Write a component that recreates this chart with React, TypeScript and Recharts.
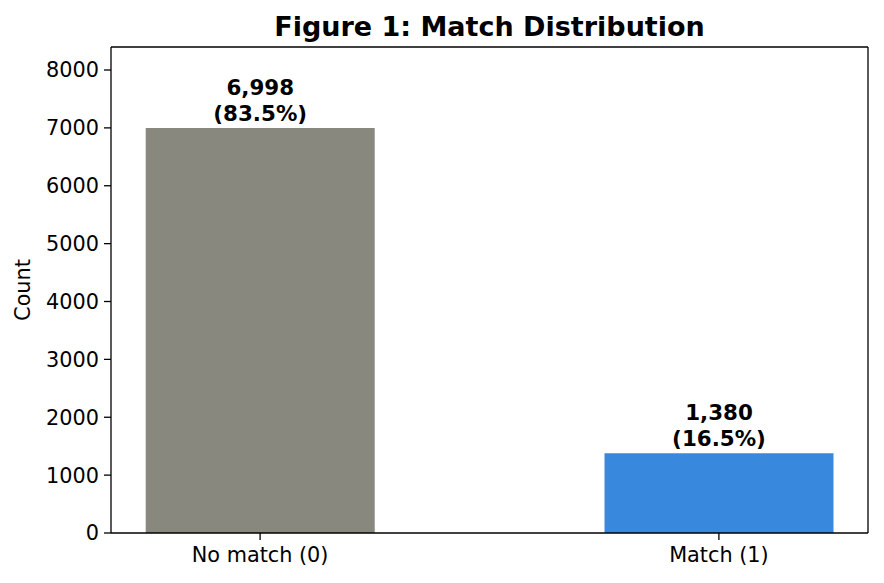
import React from 'react';
import { BarChart, Bar, XAxis, YAxis, Cell, LabelList, ReferenceLine } from 'recharts';

const categories = ['No match (0)', 'Match (1)'];
const counts = [6998, 1380];
const percents = [83.5, 16.5];
const barColors = ['#88887e', '#3889dd'];
const yTicks = [0, 1000, 2000, 3000, 4000, 5000, 6000, 7000, 8000];

const X_DOMAIN: [number, number] = [-0.325, 1.325];
const Y_MAX = 8397.6;

const data = categories.map((name, i) => ({
    x: i,
    name,
    count: counts[i],
    pct: percents[i],
}));

const FONT = '"DejaVu Sans", sans-serif';

const BarLabel = (props: any) => {
    const { x, y, width, index } = props;
    const cx = x + width / 2;
    return (
        <text x={cx} y={y} textAnchor="middle" fontFamily={FONT} fontWeight="bold" fontSize={21.4} fill="#000">
            <tspan x={cx} dy={-33}>{counts[index].toLocaleString('en-US')}</tspan>
            <tspan x={cx} dy={25.5}>({percents[index].toFixed(1)}%)</tspan>
        </text>
    );
};

export default function App() {
    const tickStyle = { fill: '#000', fontSize: 20.8, fontFamily: FONT };
    const spine = { stroke: '#000', strokeWidth: 1.3 };
    return (
        <div style={{ position: 'absolute', left: 0, top: 0, width: 884, height: 583, background: '#fff' }}>
            <BarChart width={884} height={583} data={data} margin={{ top: 47, right: 16, left: 0, bottom: 0 }}>
                <text x={489.5} y={36} textAnchor="middle" fontFamily={FONT} fontWeight="bold" fontSize={27} fill="#000">
                    Figure 1: Match Distribution
                </text>
                <XAxis
                    dataKey="x"
                    type="number"
                    domain={X_DOMAIN}
                    ticks={[0, 1]}
                    tickFormatter={(v: number) => categories[v]}
                    height={50}
                    tickSize={7}
                    tickMargin={7}
                    tick={tickStyle}
                    axisLine={spine}
                    tickLine={spine}
                    allowDataOverflow
                />
                <YAxis
                    width={111}
                    domain={[0, Y_MAX]}
                    ticks={yTicks}
                    tickSize={7}
                    tickMargin={5}
                    tick={tickStyle}
                    axisLine={spine}
                    tickLine={spine}
                    allowDataOverflow
                    label={{ value: 'Count', angle: -90, position: 'insideLeft', dx: 18, style: { fontFamily: FONT, fontSize: 20.8, fill: '#000', textAnchor: 'middle' } }}
                />
                <ReferenceLine y={Y_MAX} stroke="#000" strokeWidth={1.3} ifOverflow="extendDomain" />
                <ReferenceLine x={X_DOMAIN[1]} stroke="#000" strokeWidth={1.3} ifOverflow="extendDomain" />
                <Bar dataKey="count" barSize={229} isAnimationActive={false}>
                    {data.map((d, i) => (
                        <Cell key={`cell-${i}`} fill={barColors[i]} />
                    ))}
                    <LabelList dataKey="count" content={<BarLabel />} />
                </Bar>
            </BarChart>
        </div>
    );
}
